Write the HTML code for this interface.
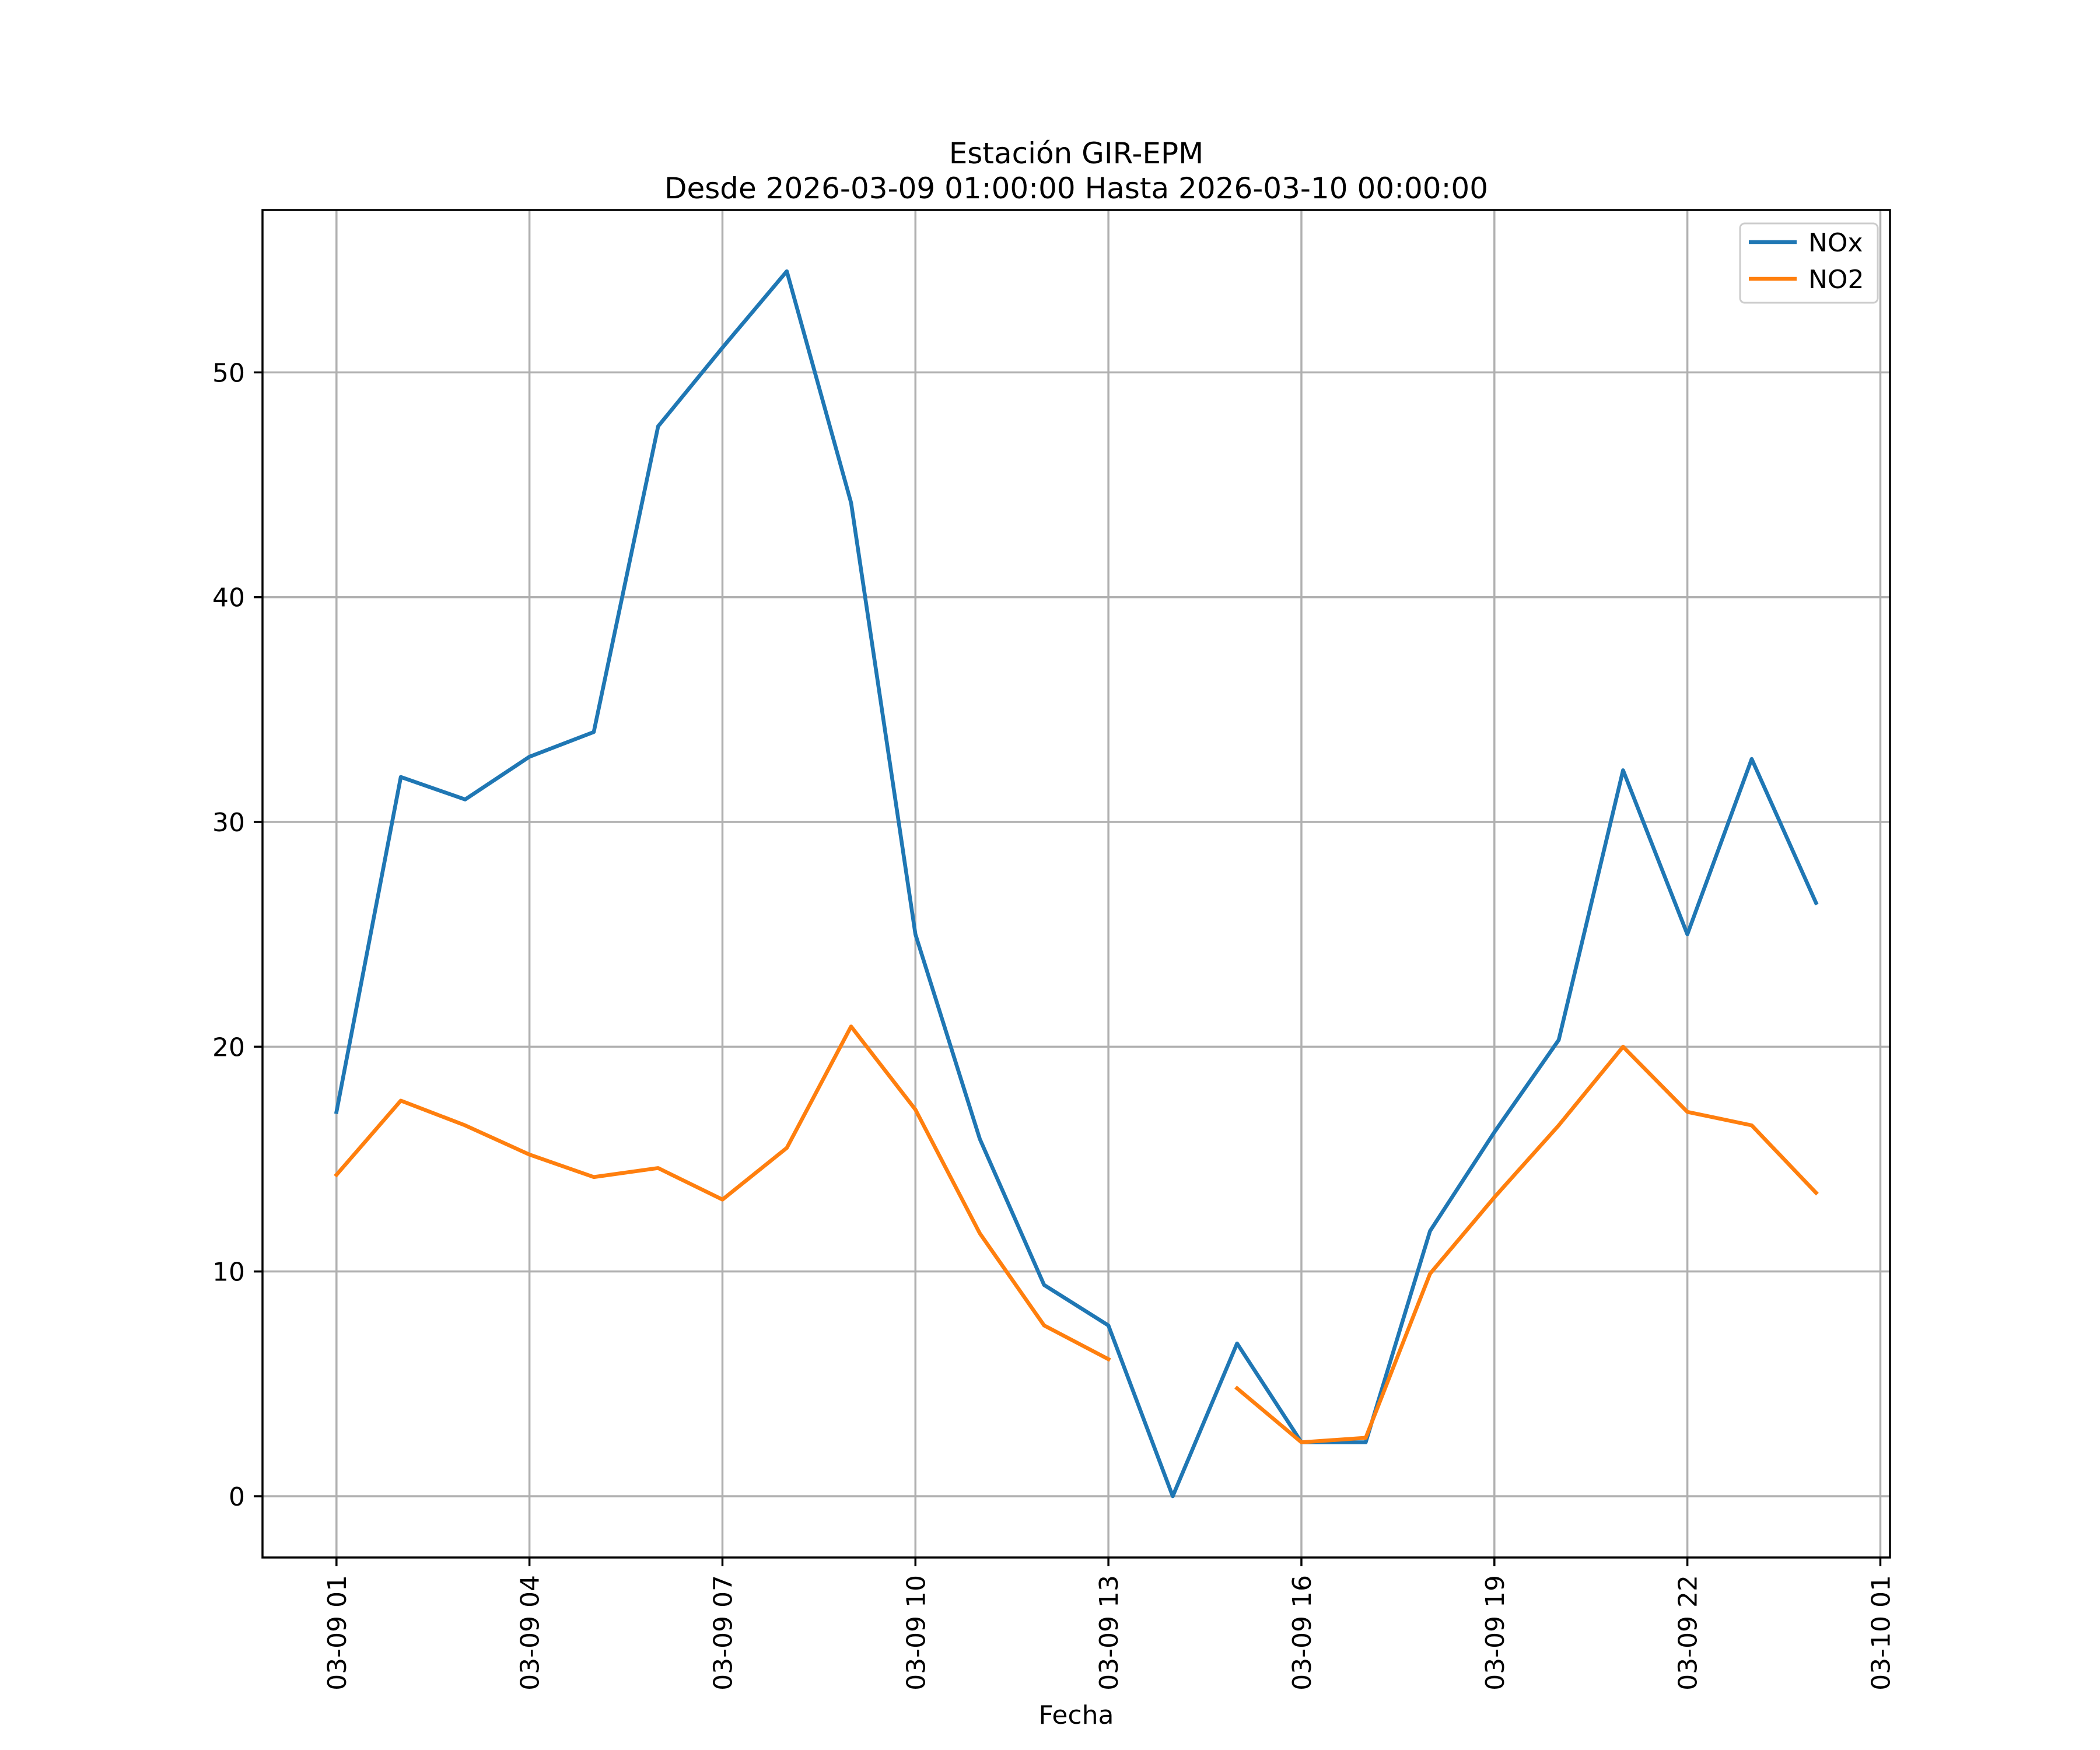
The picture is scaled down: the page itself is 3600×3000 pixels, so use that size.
<!DOCTYPE html>
<html><head><meta charset="utf-8"><style>
html,body{margin:0;padding:0;background:#fff}
svg{display:block;font-family:"DejaVu Sans","Liberation Sans",sans-serif}
</style></head><body>
<svg id="chart" xmlns="http://www.w3.org/2000/svg" width="3600" height="3000" viewBox="0 0 3600 3000">
<rect width="3600" height="3000" fill="#fff"/>
<text x="1845" y="280" font-size="50" text-anchor="middle">Estación GIR-EPM</text>
<text x="1845" y="340" font-size="50" text-anchor="middle">Desde 2026-03-09 01:00:00 Hasta 2026-03-10 00:00:00</text>
<g id="grid"></g>
<g id="series"></g>
<g id="axes"></g>
<text x="1845" y="2955" font-size="44" text-anchor="middle">Fecha</text>
<g>
<rect x="2983" y="383" width="236" height="136" rx="8" fill="#fff" fill-opacity="0.8" stroke="#cccccc" stroke-width="3"/>
<line x1="2998" y1="415" x2="3080" y2="415" stroke="#1f77b4" stroke-width="6.6"/>
<text x="3100" y="431" font-size="44">NOx</text>
<line x1="2998" y1="478" x2="3080" y2="478" stroke="#ff7f0e" stroke-width="6.6"/>
<text x="3100" y="494" font-size="44">NO2</text>
</g>
</svg>
<script>
const hours = [0,1,2,3,4,5,6,7,8,9,10,11,12,13,14,15,16,17,18,19,20,21,22,23];
const noxValues = [17.1,32.0,31.0,32.9,34.0,47.6,51.1,54.5,44.2,25.0,15.9,9.4,7.6,0.0,6.8,2.4,2.4,11.8,16.2,20.3,32.3,25.0,32.8,26.4];
const no2Values = [14.3,17.6,16.5,15.2,14.2,14.6,13.2,15.5,20.9,17.2,11.7,7.6,6.1,null,4.8,2.4,2.6,9.9,13.3,16.5,20.0,17.1,16.5,13.5];
const xTickHours = [0,3,6,9,12,15,18,21,24];
const xTickLabels = ["03-09 01","03-09 04","03-09 07","03-09 10","03-09 13","03-09 16","03-09 19","03-09 22","03-10 01"];
const yTicks = [0,10,20,30,40,50];

const L=450,R=3240,T=360,B=2670;
const ns="http://www.w3.org/2000/svg";
const allV=noxValues.concat(no2Values).filter(v=>v!==null);
const vmin=Math.min(...allV), vmax=Math.max(...allV), vr=vmax-vmin;
const y0=vmin-0.05*vr, y1=vmax+0.05*vr;
const hmin=Math.min(...hours), hmax=Math.max(...hours), hr=hmax-hmin;
const x0=hmin-0.05*hr, x1=hmax+0.05*hr;
const sx=h=>L+(h-x0)/(x1-x0)*(R-L);
const sy=v=>B-(v-y0)/(y1-y0)*(B-T);
function mk(tag,attrs,parent){const e=document.createElementNS(ns,tag);for(const k in attrs)e.setAttribute(k,attrs[k]);parent.appendChild(e);return e;}
const grid=document.getElementById('grid'),axes=document.getElementById('axes'),series=document.getElementById('series');
xTickHours.forEach((h,i)=>{
  const x=sx(h);
  const g=mk('line',{x1:x,y1:T,x2:x,y2:B,stroke:'#b0b0b0','stroke-width':3.5},grid);
  
  
  const t=mk('line',{x1:x,y1:B,x2:x,y2:B+15,stroke:'#000','stroke-width':3.5},axes);
  
  
  const tx=mk('text',{x:0,y:0,'font-size':44,'text-anchor':'end',transform:`translate(${x+16},${B+30}) rotate(-90)`},axes);
  tx.textContent=xTickLabels[i];
  
  
});
yTicks.forEach(v=>{
  const y=sy(v);
  const g=mk('line',{x1:L,y1:y,x2:R,y2:y,stroke:'#b0b0b0','stroke-width':3.5},grid);
  
  
  const t=mk('line',{x1:L-15,y1:y,x2:L,y2:y,stroke:'#000','stroke-width':3.5},axes);
  
  
  const tx=mk('text',{x:L-30,y:y+16,'font-size':44,'text-anchor':'end'},axes);
  tx.textContent=v;
  
  
});
const frame=mk('rect',{x:L,y:T,width:R-L,height:B-T,fill:'none',stroke:'#000','stroke-width':3.5},axes);


function drawSeries(vals,color,name){
  let segs=[],cur=[];
  vals.forEach((v,i)=>{if(v===null){if(cur.length)segs.push(cur);cur=[];}else cur.push(sx(hours[i]).toFixed(1)+','+sy(v).toFixed(1));});
  if(cur.length)segs.push(cur);
  segs.forEach(s=>{
    const p=mk('polyline',{points:s.join(' '),fill:'none',stroke:color,'stroke-width':6.6,'stroke-linejoin':'round','stroke-linecap':'square'},series);
    
    
  });
}
drawSeries(noxValues,'#1f77b4','nox-line');
drawSeries(no2Values,'#ff7f0e','no2-line');
</script>
</body></html>
